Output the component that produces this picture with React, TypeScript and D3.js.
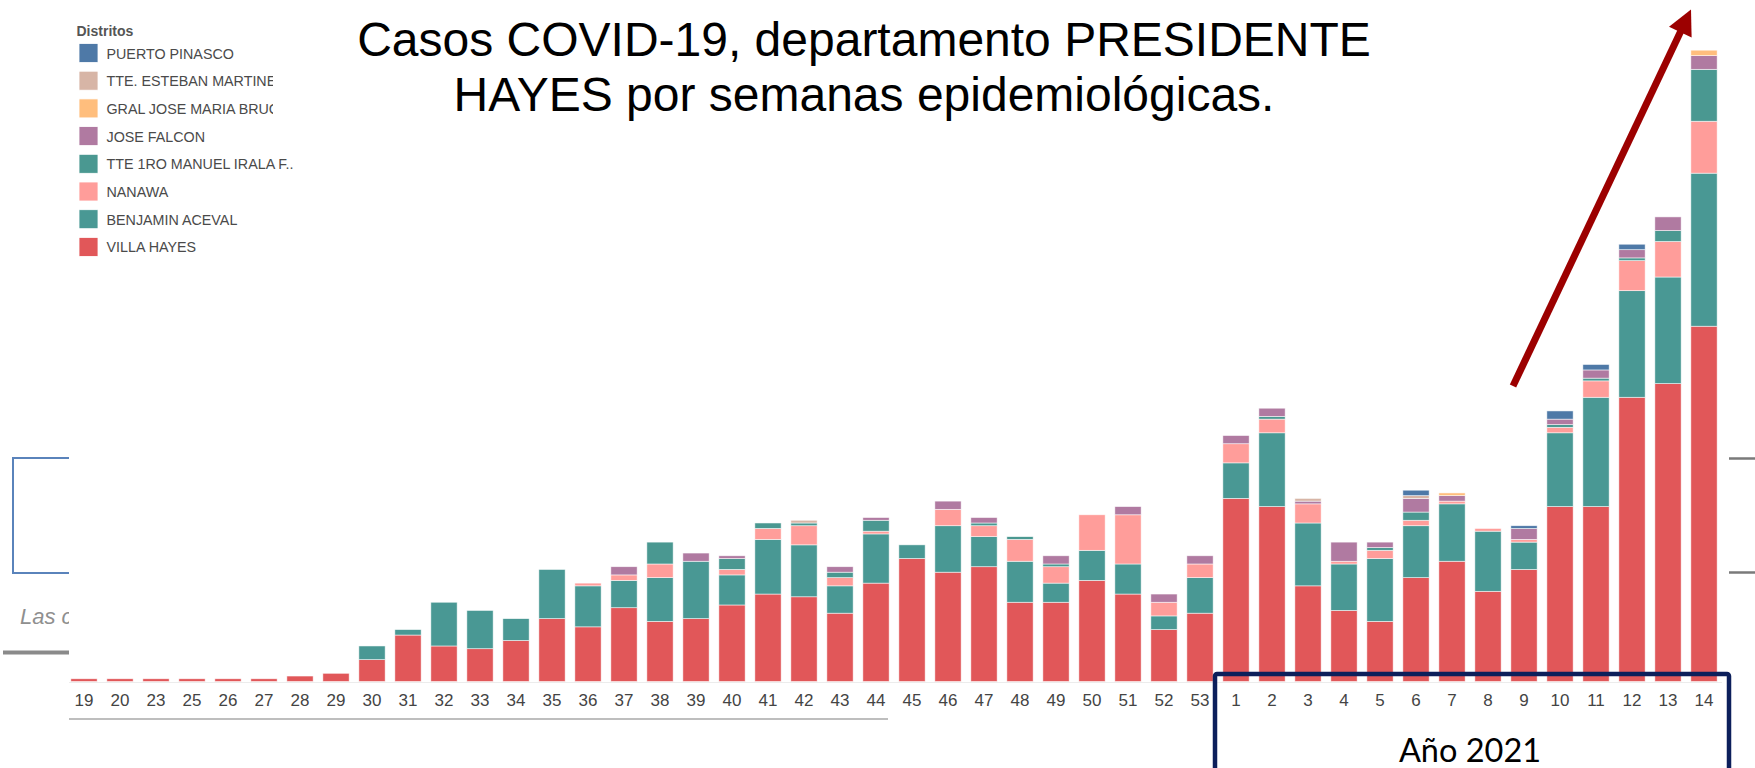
import React from "react";
import * as d3 from "d3";

// Epidemiological weeks (2020: 19..53, 2021: 1..14)
const weeks = [
  "19", "20", "23", "25", "26", "27", "28", "29", "30", "31", "32", "33", "34", "35", "36", "37",
  "38", "39", "40", "41", "42", "43", "44", "45", "46", "47", "48", "49", "50", "51", "52", "53",
  "1", "2", "3", "4", "5", "6", "7", "8", "9", "10", "11", "12", "13", "14",
];

const villaHayes = [
  1, 1, 1, 1, 1, 1, 2, 3, 8, 17, 13, 12, 15, 23, 20, 27,
  22, 23, 28, 32, 31, 25, 36, 45, 40, 42, 29, 29, 37, 32, 19, 25,
  67, 64, 35, 26, 22, 38, 44, 33, 41, 64, 64, 104, 109, 130,
];
const benjaminAceval = [
  0, 0, 0, 0, 0, 0, 0, 0, 5, 2, 16, 14, 8, 18, 15, 10,
  16, 21, 11, 20, 19, 10, 18, 5, 17, 11, 15, 7, 11, 11, 5, 13,
  13, 27, 23, 17, 23, 19, 21, 22, 10, 27, 40, 39, 39, 56,
];
const nanawa = [
  0, 0, 0, 0, 0, 0, 0, 0, 0, 0, 0, 0, 0, 0, 1, 2,
  5, 0, 2, 4, 7, 3, 1, 0, 6, 4, 8, 6, 13, 18, 5, 5,
  7, 5, 7, 1, 3, 2, 1, 1, 1, 2, 6, 11, 13, 19,
];
const tteIrala = [
  0, 0, 0, 0, 0, 0, 0, 0, 0, 0, 0, 0, 0, 0, 0, 0,
  8, 0, 4, 2, 1, 2, 4, 0, 0, 1, 1, 1, 0, 0, 0, 0,
  0, 1, 0, 0, 1, 3, 0, 0, 0, 1, 1, 1, 4, 19,
];
const joseFalcon = [
  0, 0, 0, 0, 0, 0, 0, 0, 0, 0, 0, 0, 0, 0, 0, 3,
  0, 3, 1, 0, 0, 2, 1, 0, 3, 2, 0, 3, 0, 3, 3, 3,
  3, 3, 1, 7, 2, 5, 2, 0, 4, 2, 3, 3, 5, 5,
];
const gralBruguez = [
  0, 0, 0, 0, 0, 0, 0, 0, 0, 0, 0, 0, 0, 0, 0, 0,
  0, 0, 0, 0, 0, 0, 0, 0, 0, 0, 0, 0, 0, 0, 0, 0,
  0, 0, 0, 0, 0, 0, 1, 0, 0, 0, 0, 0, 0, 2,
];
const tteEsteban = [
  0, 0, 0, 0, 0, 0, 0, 0, 0, 0, 0, 0, 0, 0, 0, 0,
  0, 0, 0, 0, 1, 0, 0, 0, 0, 0, 0, 0, 0, 0, 0, 0,
  0, 0, 1, 0, 0, 1, 0, 0, 0, 0, 0, 0, 0, 0,
];
const puertoPinasco = [
  0, 0, 0, 0, 0, 0, 0, 0, 0, 0, 0, 0, 0, 0, 0, 0,
  0, 0, 0, 0, 0, 0, 0, 0, 0, 0, 0, 0, 0, 0, 0, 0,
  0, 0, 0, 0, 0, 2, 0, 0, 1, 3, 2, 2, 0, 0,
];

// stacking order bottom -> top
const districts = [
  "VILLA HAYES",
  "BENJAMIN ACEVAL",
  "NANAWA",
  "TTE 1RO MANUEL IRALA F..",
  "JOSE FALCON",
  "GRAL JOSE MARIA BRUGUEZ",
  "TTE. ESTEBAN MARTINEZ",
  "PUERTO PINASCO",
];
const seriesValues = [
  villaHayes, benjaminAceval, nanawa, tteIrala, joseFalcon, gralBruguez, tteEsteban, puertoPinasco,
];
const districtColors = [
  "#e15759", "#499894", "#ff9d9a", "#4a9891", "#b07aa1", "#ffbe7d", "#d7b5a6", "#4e79a7",
];
// legend order (top -> bottom) and truncated legend labels
const legendOrder = [7, 6, 5, 4, 3, 2, 1, 0];
const truncated = new Set(["TTE. ESTEBAN MARTINEZ", "GRAL JOSE MARIA BRUGUEZ"]);

const titleLines = ["Casos COVID-19, departamento PRESIDENTE", "HAYES por semanas epidemiológicas."];
const yearLabel = "Año 2021";

export default function App() {
  const W = 1755;
  const H = 768;
  const baseline = 681.5;
  const pxPerCase = 2.733;

  const x = d3
    .scaleBand<string>()
    .domain(weeks)
    .range([66, 1722])
    .paddingInner(0.27)
    .paddingOuter(0.135);
  const y = d3.scaleLinear().domain([0, 240]).range([baseline, baseline - 240 * pxPerCase]);

  const table = weeks.map((w, i) => {
    const row: Record<string, any> = { week: w };
    districts.forEach((d, k) => (row[d] = seriesValues[k][i]));
    return row;
  });
  const stacked = d3.stack<any>().keys(districts)(table);

  // arrow annotation
  const tail = [1513, 386];
  const tip = [1691, 9.5];
  const dx = tip[0] - tail[0];
  const dy = tip[1] - tail[1];
  const len = Math.hypot(dx, dy);
  const ux = dx / len, uy = dy / len;
  const nx = -uy, ny = ux;
  const headLen = 25, headHalf = 12.5;
  const bx = tip[0] - ux * headLen, by = tip[1] - uy * headLen;
  const headPts = [
    [tip[0], tip[1]],
    [bx + nx * headHalf, by + ny * headHalf],
    [bx - nx * headHalf, by - ny * headHalf],
  ]
    .map((p) => p.join(","))
    .join(" ");

  return (
    <svg
      width={W}
      height={H}
      style={{ position: "absolute", left: 0, top: 0, display: "block", background: "#fff" }}
      fontFamily="'Liberation Sans', Arial, sans-serif"
    >
      <defs>
        <clipPath id="leftClip">
          <rect x={0} y={0} width={69} height={H} />
        </clipPath>
        <clipPath id="legendClip">
          <rect x={0} y={0} width={273} height={300} />
        </clipPath>
      </defs>

      {/* left-side artifacts partially hidden behind the chart */}
      <g clipPath="url(#leftClip)">
        <rect x={13} y={458} width={200} height={115} fill="none" stroke="#5a83bb" strokeWidth={2} />
        <text x={20} y={624} fontSize={22} fontStyle="italic" fill="#8f8f8f">
          Las cifras
        </text>
        <line x1={3} x2={120} y1={652.5} y2={652.5} stroke="#8a8a8a" strokeWidth={4} />
      </g>

      {/* right-side gray ticks */}
      <line x1={1729} x2={1755} y1={458.5} y2={458.5} stroke="#7a7a7a" strokeWidth={2.5} />
      <line x1={1729} x2={1755} y1={572.5} y2={572.5} stroke="#7a7a7a" strokeWidth={2.5} />

      {/* baseline */}
      <line x1={69} x2={1722} y1={baseline + 1} y2={baseline + 1} stroke="#ececec" strokeWidth={1} />

      {/* bars */}
      {stacked.map((layer, k) => (
        <g key={layer.key} fill={districtColors[k]}>
          {layer.map((d, i) => {
            const h = y(d[0]) - y(d[1]);
            if (h <= 0) return null;
            return (
              <rect
                key={i}
                x={x(weeks[i])}
                y={y(d[1])}
                width={x.bandwidth()}
                height={h}
                stroke="#ffffff"
                strokeWidth={0.7}
                strokeOpacity={0.75}
              />
            );
          })}
        </g>
      ))}

      {/* x-axis labels */}
      {weeks.map((w) => (
        <text
          key={w}
          x={(x(w) as number) + x.bandwidth() / 2}
          y={706}
          textAnchor="middle"
          fontSize={17}
          fill="#444"
        >
          {w}
        </text>
      ))}
      <line x1={69} x2={888} y1={719} y2={719} stroke="#a8a8a8" strokeWidth={1.5} />

      {/* legend */}
      <text x={76.5} y={35.5} fontSize={14} fontWeight="bold" fill="#555">
        Distritos
      </text>
      {legendOrder.map((k, j) => {
        const top = 43.5 + j * 27.7;
        return (
          <g key={districts[k]}>
            <rect x={79} y={top} width={19} height={19} fill={districtColors[k]} stroke="#fff" strokeWidth={0.8} />
            <text
              x={106.5}
              y={top + 15}
              fontSize={14.3}
              fill="#4a4a4a"
              clipPath={truncated.has(districts[k]) ? "url(#legendClip)" : undefined}
            >
              {districts[k]}
            </text>
          </g>
        );
      })}

      {/* title */}
      {titleLines.map((t, i) => (
        <text key={i} x={864} y={55.5 + i * 55} textAnchor="middle" fontSize={48} fill="#000">
          {t}
        </text>
      ))}

      {/* arrow */}
      <line x1={tail[0]} y1={tail[1]} x2={bx + ux * 1} y2={by + uy * 1} stroke="#9c0000" strokeWidth={7} />
      <polygon points={headPts} fill="#9c0000" />

      {/* year box */}
      <rect x={1215} y={674} width={514} height={140} rx={2} fill="none" stroke="#0c1f5b" strokeWidth={4.5} />
      <text x={1470} y={762} textAnchor="middle" fontSize={32.5} fontFamily="Lato, 'Open Sans', sans-serif" fill="#000">
        {yearLabel}
      </text>
    </svg>
  );
}
